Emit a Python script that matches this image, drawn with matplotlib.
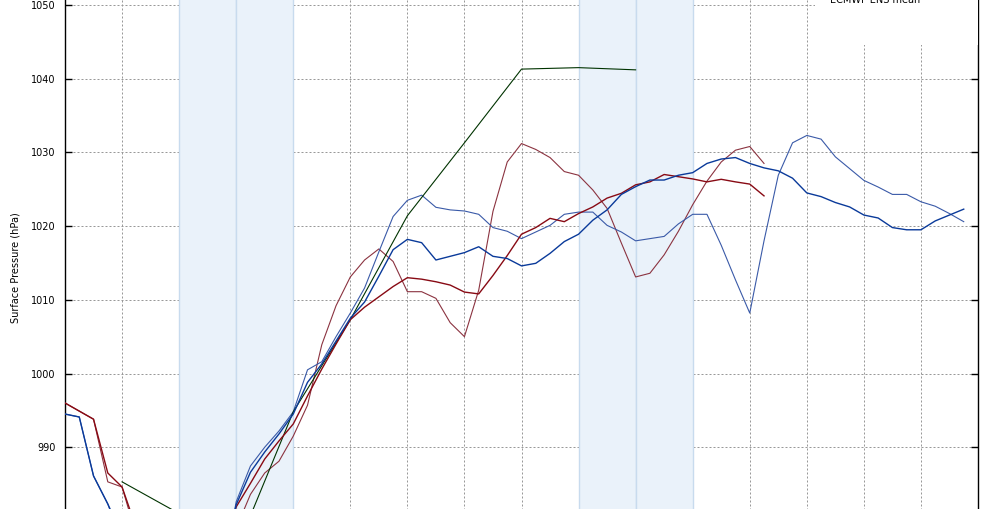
import matplotlib
matplotlib.use("Agg")
import matplotlib.pyplot as plt
from matplotlib.patches import Rectangle

# 6-hourly steps, 4 steps per day, 16 days on the axis
thick_blue = [994.5, 994.1, 986.1, 982.3, 978, 974, 971, 968, 966, 966, 968, 973,
              982.2, 986.6, 989.35, 991.8, 994.5, 998.8, 1001.3, 1004.4, 1007.5, 1009.7,
              1013.2, 1016.8, 1018.2, 1017.75, 1015.4, 1015.9, 1016.4, 1017.2, 1015.9,
              1015.6, 1014.6, 1014.95, 1016.3, 1017.9, 1018.9, 1020.8, 1022.2, 1024.3,
              1025.35, 1026.25, 1026.25, 1026.9, 1027.25, 1028.5, 1029.1, 1029.3, 1028.5,
              1027.9, 1027.5, 1026.5, 1024.5, 1024.0, 1023.2, 1022.6, 1021.5, 1021.1,
              1019.8, 1019.5, 1019.5, 1020.7, 1021.5, 1022.3]
thin_blue = [994.5, 994.1, 986.1, 982.3, 977, 973, 970, 967, 965, 965, 967, 972,
             982.6, 987.45, 990.0, 992.2, 994.8, 1000.5, 1001.6, 1005.0, 1008.2, 1011.6,
             1016.5, 1021.3, 1023.5, 1024.2, 1022.55, 1022.2, 1022.05, 1021.6, 1019.8,
             1019.3, 1018.3, 1019.2, 1020.1, 1021.6, 1021.9, 1021.9, 1020.1, 1019.2,
             1018.0, 1018.3, 1018.6, 1020.3, 1021.6, 1021.6, 1017.4, 1012.7, 1008.2,
             1018.0, 1026.9, 1031.3, 1032.3, 1031.8, 1029.4, 1027.8, 1026.2, 1025.3,
             1024.3, 1024.3, 1023.3, 1022.7, 1021.7, 1020.6]
thick_red = [996.0, 994.9, 993.8, 986.5, 984.6, 979, 975, 971, 968, 967, 969, 975,
             981.9, 985.1, 988.4, 990.85, 993.15, 996.95, 1000.6, 1004.0, 1007.3, 1009.0,
             1010.4, 1011.8, 1013.0, 1012.8, 1012.45, 1012.0, 1011.05, 1010.8, 1013.3,
             1016.0, 1018.9, 1019.8, 1021.05, 1020.6, 1021.7, 1022.6, 1023.8, 1024.45,
             1025.6, 1026.0, 1027.0, 1026.7, 1026.4, 1026.0, 1026.35, 1026.0, 1025.7,
             1024.1]
thin_red = [996.0, 994.9, 993.8, 985.3, 984.6, 978, 973, 970, 967, 966, 968, 973,
            979.0, 983.6, 986.5, 988.1, 991.5, 995.7, 1003.9, 1009.2, 1013.1, 1015.4,
            1016.9, 1015.2, 1011.1, 1011.1, 1010.2, 1006.9, 1005.0, 1011.3, 1022.0,
            1028.7, 1031.2, 1030.4, 1029.3, 1027.4, 1026.9, 1024.9, 1022.4, 1017.7,
            1013.1, 1013.6, 1016.1, 1019.3, 1022.9, 1026.1, 1028.7, 1030.3, 1030.8,
            1028.5]
# daily values
green_steps = [4, 8, 12, 16, 20, 24, 28, 32, 36, 40]
green = [985.3, 981.0, 976.0, 994.8, 1007.3, 1021.4, 1031.3, 1041.3, 1041.5, 1041.2]

weekend_spans = [(8, 12), (12, 16), (36, 40), (40, 44)]
y_ticks = list(range(960, 1061, 10))
y_labels = [str(v) if 990 <= v <= 1050 else "" for v in y_ticks]

fig = plt.figure(figsize=(10, 5.09), dpi=100)
ax = fig.add_axes([0.065, -0.313, 0.913, 1.448])

ax.set_xlim(0, 64)
ax.set_ylim(960, 1060)
ax.set_xticks(range(0, 65, 4))
ax.set_xticklabels([])
ax.set_yticks(y_ticks)
ax.set_yticklabels(y_labels)
ax.tick_params(axis="y", direction="in", length=5, width=1, labelsize=7, pad=7,
               right=True, labelright=False)
ax.tick_params(axis="x", direction="in", length=0)
ax.set_axisbelow(True)
ax.grid(True, color="#999999", linestyle=(0, (2, 2)), linewidth=0.72)
for s in ["left", "right", "top", "bottom"]:
    ax.spines[s].set_linewidth(1)

for a, b in weekend_spans:
    ax.axvspan(a, b, facecolor="#eaf2fa", edgecolor="#c8dbee", linewidth=1, zorder=1)

ax.plot(range(len(thin_red)), thin_red, color="#8b3340", lw=0.8, zorder=3)
ax.plot(range(len(thin_blue)), thin_blue, color="#3a5aa8", lw=0.8, zorder=3)
ax.plot(green_steps, green, color="#003300", lw=0.8, zorder=3)
ax.plot(range(len(thick_red)), thick_red, color="#880a14", lw=1.0, zorder=4)
ax.plot(range(len(thick_blue)), thick_blue, color="#0a3a9a", lw=1.0, zorder=4)

# legend box (mostly above the visible area)
ax.add_patch(Rectangle((52.6, 1044.6), 64 - 52.6, 20, facecolor="white",
                       edgecolor="none", zorder=5))
ax.text(56.8, 1050.27, "ECMWF ENS mean", ha="center", va="baseline", fontsize=7,
        zorder=6)

fig.text(0.016, 0.475, "Surface Pressure (hPa)", rotation=90, ha="center",
         va="center", fontsize=7)

fig.savefig("out.png", dpi=100)
